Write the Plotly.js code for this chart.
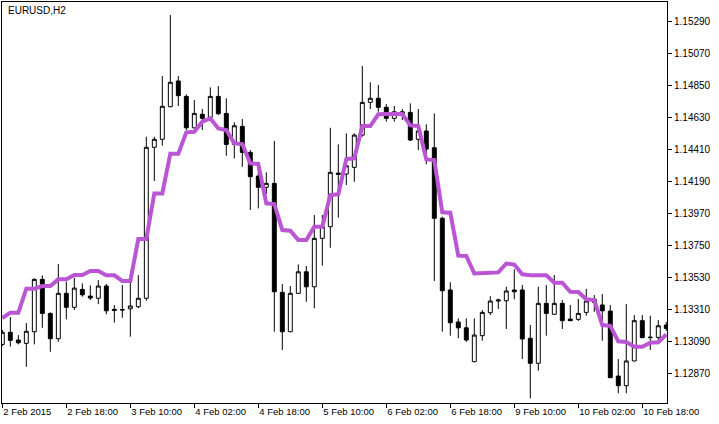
<!DOCTYPE html>
<html>
<head>
<meta charset="utf-8">
<script src="https://cdn.plot.ly/plotly-3.0.1.min.js"></script>
<style>html,body{margin:0;padding:0;background:#fff;}#chart{width:719px;height:424px;}</style>
</head>
<body>
<div id="chart"></div>
<script>
// EURUSD H2 bars (bar index 0 = 2 Feb 2015 02:00)
const openP  = [1.13069,1.13152,1.13099,1.13076,1.13156,1.13516,1.13282,1.13108,1.13420,1.13324,
                1.13447,1.13401,1.13386,1.13470,1.13310,1.13308,1.13314,1.13328,1.13386,1.14424,
                1.14479,1.14703,1.14880,1.14774,1.14558,1.14651,1.14630,1.14774,1.14657,1.14444,
                1.14568,1.14389,1.14226,1.14149,1.14176,1.13427,1.13156,1.13420,1.13568,1.13465,
                1.13798,1.13878,1.14247,1.14240,1.14286,1.14508,1.14733,1.14761,1.14699,1.14623,
                1.14668,1.14664,1.14479,1.14536,1.14421,1.13936,1.13443,1.13223,1.13183,1.12950,
                1.13129,1.13287,1.13367,1.13369,1.13443,1.13443,1.13111,1.12939,1.13351,1.13276,
                1.13351,1.13243,1.13241,1.13289,1.13379,1.13340,1.13298,1.12851,1.12785,1.12955,
                1.13232,1.13115,1.13117,1.13202];
const highP  = [1.13168,1.13257,1.13133,1.13216,1.13523,1.13544,1.13289,1.13621,1.13500,1.13527,
                1.13489,1.13475,1.13511,1.13484,1.13340,1.13477,1.13493,1.13546,1.14497,1.14497,
                1.14914,1.15333,1.14914,1.14788,1.14749,1.14687,1.14836,1.14845,1.14761,1.14596,
                1.14618,1.14405,1.14325,1.14252,1.14467,1.13484,1.13470,1.13619,1.13608,1.13958,
                1.13958,1.14558,1.14444,1.14520,1.14520,1.14983,1.14871,1.14852,1.14721,1.14708,
                1.14687,1.14726,1.14687,1.14582,1.14657,1.13947,1.13496,1.13248,1.13248,1.13248,
                1.13305,1.13401,1.13383,1.13465,1.13585,1.13477,1.13202,1.13465,1.13477,1.13546,
                1.13374,1.13340,1.13381,1.13450,1.13408,1.13415,1.13340,1.12968,1.13346,1.13271,
                1.13271,1.13266,1.13236,1.13223];
const lowP   = [1.13058,1.13053,1.13069,1.12915,1.13069,1.13183,1.13018,1.13087,1.13241,1.13305,
                1.13397,1.13374,1.13346,1.13276,1.13218,1.13252,1.13122,1.13317,1.13369,1.14192,
                1.14435,1.14700,1.14708,1.14543,1.14554,1.14543,1.14628,1.14646,1.14366,1.14348,
                1.14290,1.13993,1.14004,1.14103,1.13156,1.13030,1.13153,1.13418,1.13362,1.13317,
                1.13610,1.13733,1.13940,1.14165,1.14187,1.14497,1.14687,1.14668,1.14600,1.14600,
                1.14611,1.14467,1.14405,1.14307,1.13505,1.13156,1.13129,1.13111,1.13087,1.12947,
                1.13094,1.13271,1.13312,1.13175,1.13379,1.12968,1.12698,1.12888,1.13129,1.13274,
                1.13175,1.13230,1.13230,1.13266,1.13293,1.13094,1.12838,1.12733,1.12733,1.12953,
                1.13113,1.13030,1.13094,1.13161];
const closeP = [1.13152,1.13097,1.13080,1.13159,1.13516,1.13282,1.13108,1.13420,1.13324,1.13456,
                1.13410,1.13388,1.13470,1.13300,1.13303,1.13306,1.13333,1.13386,1.14424,1.14479,
                1.14706,1.14871,1.14779,1.14558,1.14657,1.14623,1.14774,1.14655,1.14444,1.14572,
                1.14389,1.14222,1.14149,1.14176,1.13431,1.13156,1.13420,1.13568,1.13465,1.13798,
                1.13878,1.14252,1.14238,1.14297,1.14508,1.14733,1.14761,1.14699,1.14623,1.14668,
                1.14657,1.14474,1.14536,1.14412,1.13936,1.13438,1.13218,1.13183,1.13099,1.13133,
                1.13289,1.13367,1.13374,1.13436,1.13431,1.13106,1.12939,1.13351,1.13282,1.13351,
                1.13232,1.13232,1.13282,1.13367,1.13358,1.13300,1.12840,1.12785,1.12955,1.13232,
                1.13115,1.13118,1.13197,1.13179];
const maLine = [1.13250,1.13287,1.13287,1.13452,1.13452,1.13470,1.13470,1.13516,1.13516,1.13546,
                1.13546,1.13573,1.13573,1.13544,1.13544,1.13505,1.13505,1.13793,1.13793,1.14107,
                1.14107,1.14380,1.14380,1.14527,1.14531,1.14600,1.14623,1.14554,1.14543,1.14451,
                1.14446,1.14314,1.14309,1.14039,1.14034,1.13855,1.13850,1.13786,1.13786,1.13878,
                1.13878,1.14096,1.14101,1.14343,1.14348,1.14570,1.14570,1.14651,1.14653,1.14653,
                1.14653,1.14575,1.14570,1.14341,1.14336,1.13977,1.13974,1.13679,1.13677,1.13557,
                1.13557,1.13561,1.13564,1.13625,1.13618,1.13551,1.13544,1.13544,1.13544,1.13493,
                1.13493,1.13431,1.13429,1.13379,1.13374,1.13202,1.13197,1.13090,1.13085,1.13053,
                1.13053,1.13081,1.13083,1.13138];
const xTickBars   = [0, 8, 16, 24, 32, 40, 48, 56, 64, 72, 80];
const xTickLabels = ['2 Feb 2015','2 Feb 18:00','3 Feb 10:00','4 Feb 02:00','4 Feb 18:00',
                     '5 Feb 10:00','6 Feb 02:00','6 Feb 18:00','9 Feb 10:00','10 Feb 02:00','10 Feb 18:00'];
const yTickVals = [1.12870,1.13090,1.13310,1.13530,1.13750,1.13970,1.14190,1.14410,1.14630,1.14850,1.15070,1.15290];

const barIdx = openP.map((_, i) => i);
const font = {family: 'Liberation Sans, Arial, sans-serif', size: 10, color: '#000'};
const xfont = {family: 'Liberation Sans, Arial, sans-serif', size: 9.5, color: '#000'};

const traces = [
  {
    type: 'candlestick', x: barIdx, open: openP, high: highP, low: lowP, close: closeP,
    increasing: {line: {color: '#000', width: 1}, fillcolor: '#ffffff'},
    decreasing: {line: {color: '#000', width: 1}, fillcolor: '#000000'},
    whiskerwidth: 0, showlegend: false, hoverinfo: 'skip'
  },
  {
    type: 'scatter', mode: 'lines', x: barIdx, y: maLine,
    line: {color: '#BA55D3', width: 4}, showlegend: false, hoverinfo: 'skip'
  }
];

const layout = {
  width: 719, height: 424,
  margin: {l: 2, r: 52, t: 2, b: 21, pad: 0},
  paper_bgcolor: '#fff', plot_bgcolor: '#fff',
  font: font,
  showlegend: false,
  xaxis: {
    type: 'linear', range: [-0.04, 83.09], rangeslider: {visible: false},
    showgrid: false, zeroline: false, showline: true, linecolor: '#000', linewidth: 1, mirror: true,
    tickmode: 'array', tickvals: xTickBars, ticktext: xTickLabels, tickangle: 0,
    ticks: 'outside', ticklen: 4, tickcolor: '#000', tickwidth: 1,
    ticklabelposition: 'outside right', tickfont: xfont, automargin: false
  },
  yaxis: {
    side: 'right', range: [1.12666, 1.15423],
    showgrid: false, zeroline: false, showline: true, linecolor: '#000', linewidth: 1, mirror: true,
    tickmode: 'array', tickvals: yTickVals, tickformat: '.5f',
    ticks: 'outside', ticklen: 4, tickcolor: '#000', tickwidth: 1, tickfont: font, automargin: false
  },
  annotations: [{
    xref: 'paper', yref: 'paper', x: 0, y: 1, xanchor: 'left', yanchor: 'top',
    xshift: 4, yshift: -1, showarrow: false, text: 'EURUSD,H2', font: font
  }]
};

Plotly.newPlot('chart', traces, layout, {staticPlot: true, displayModeBar: false});
</script>
</body>
</html>
